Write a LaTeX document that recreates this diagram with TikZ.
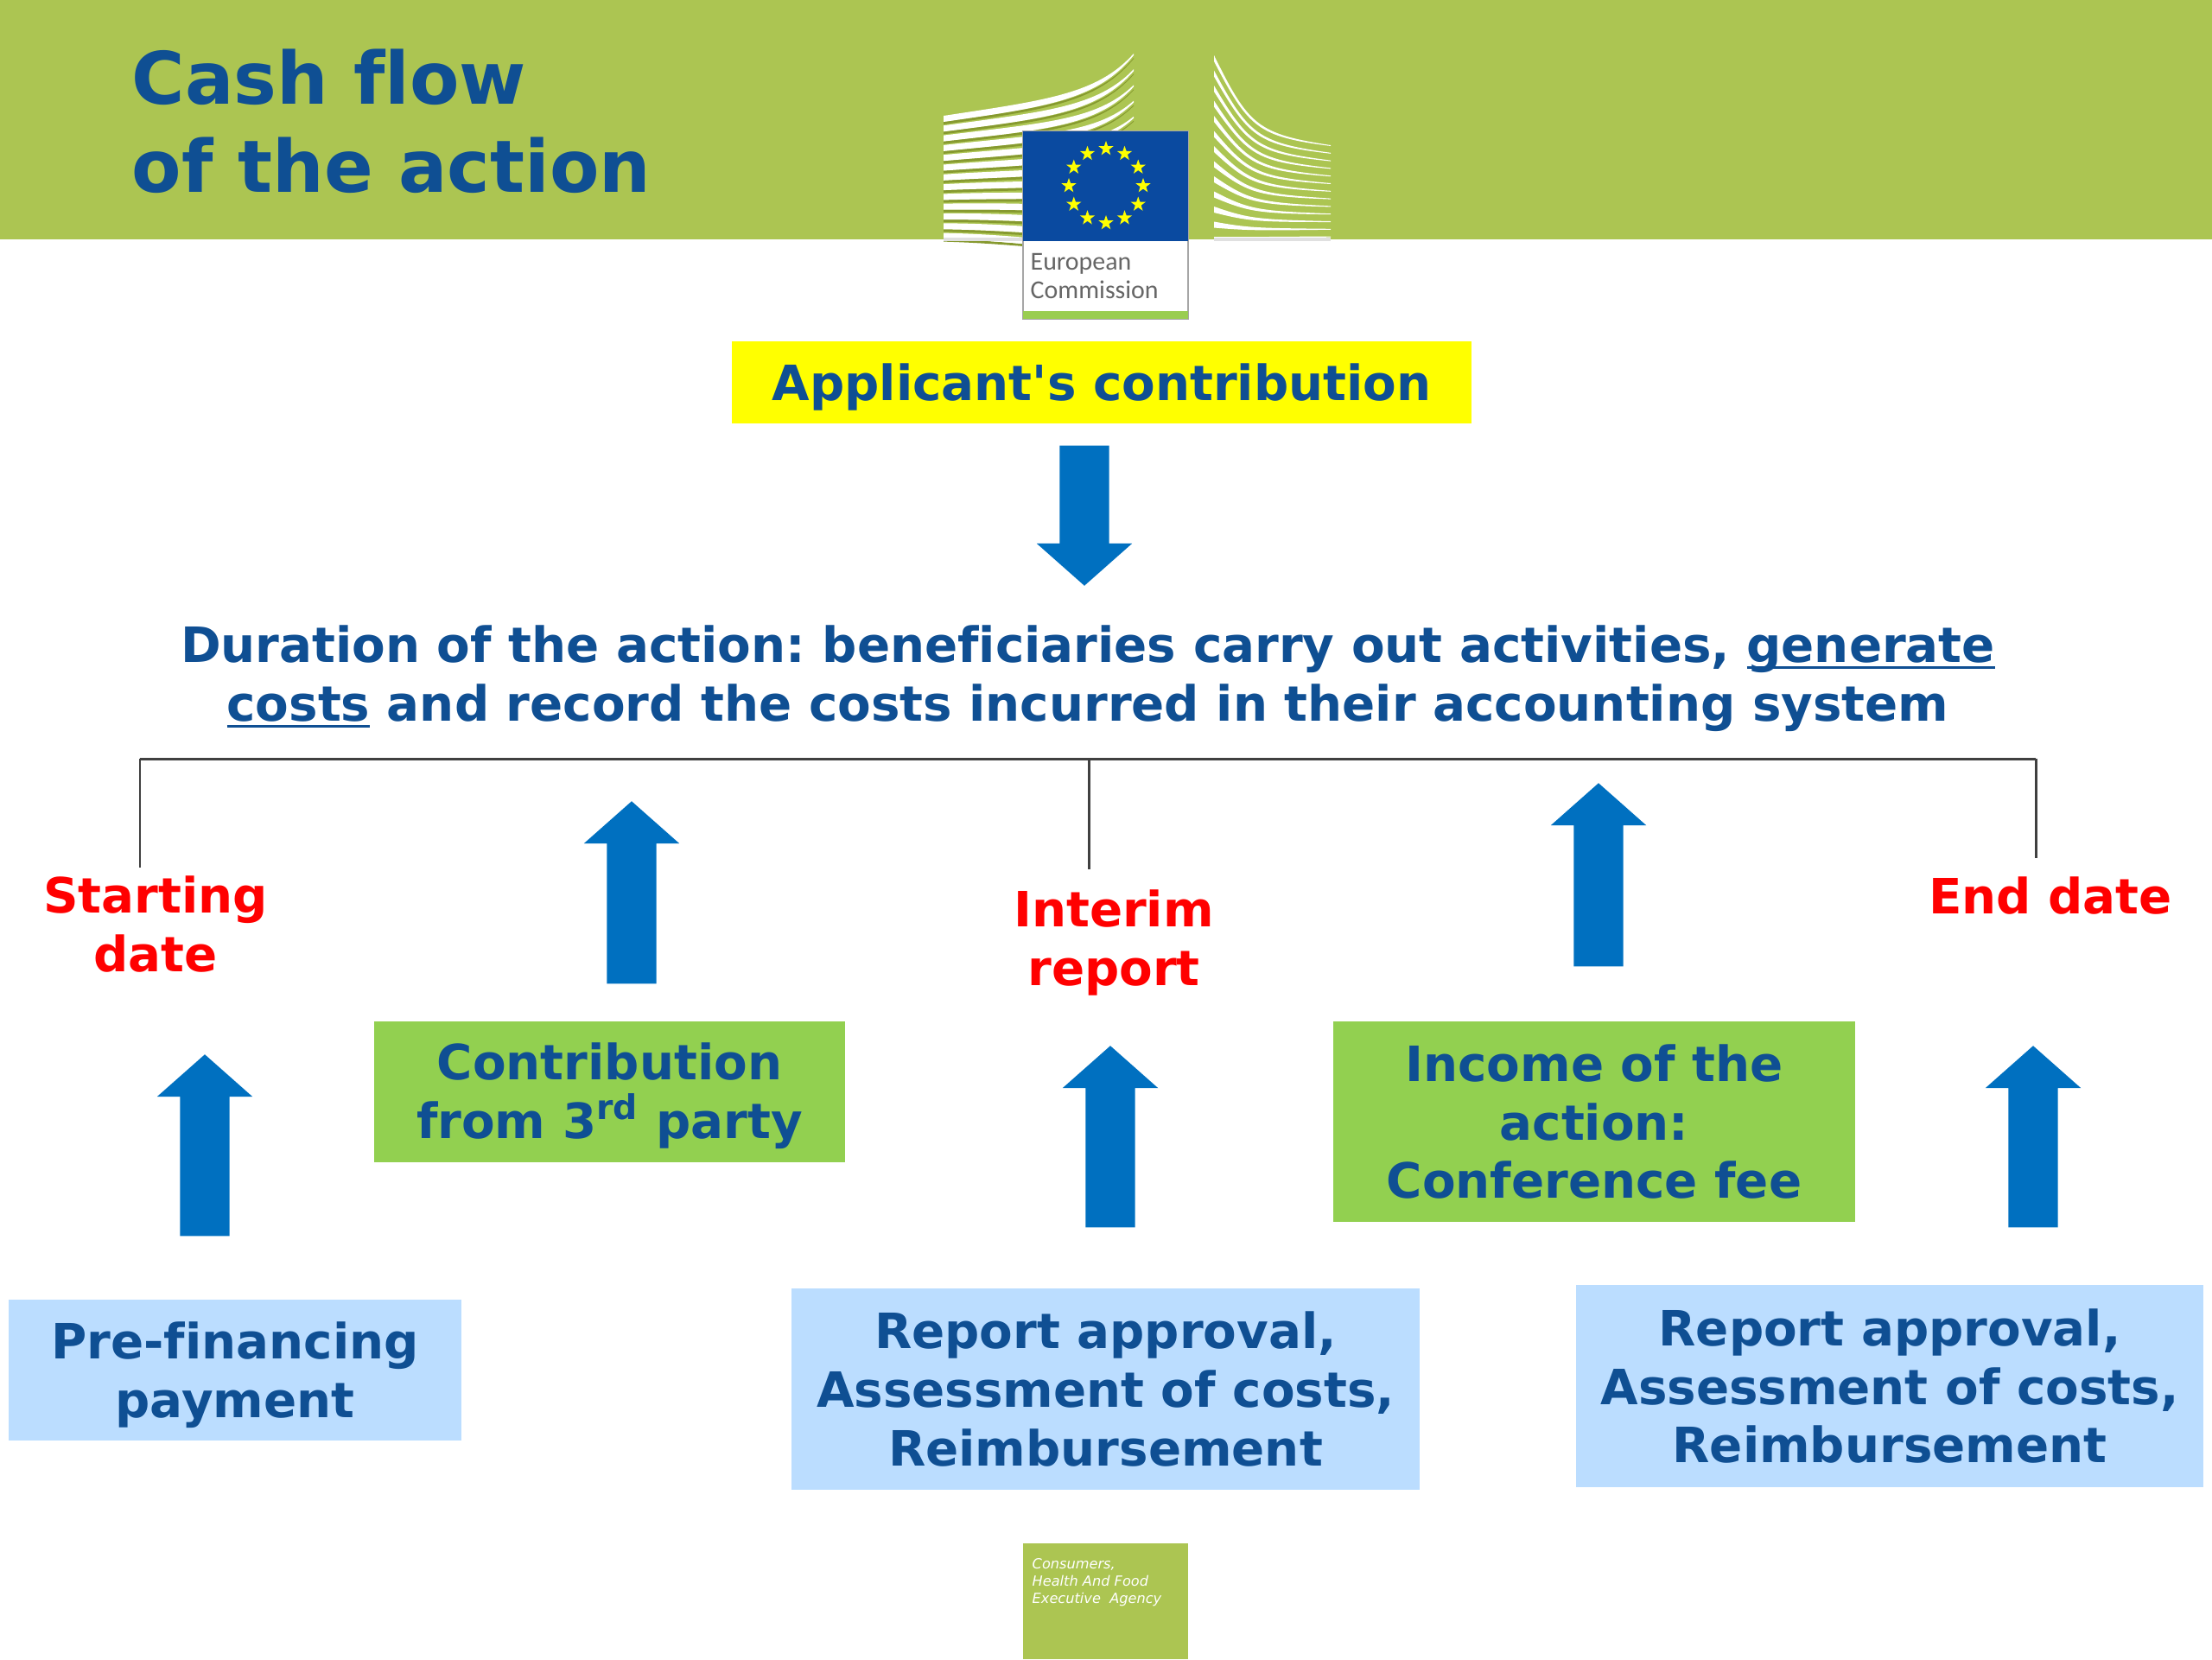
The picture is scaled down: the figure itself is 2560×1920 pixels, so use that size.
\documentclass[tikz,border=0pt]{standalone}
\usepackage{fontspec}
\setmainfont{DejaVu Sans}[Ligatures=CommonOff]
\newfontfamily\logofont{Carlito}
\usetikzlibrary{shapes.arrows,shapes.geometric}
\definecolor{headgreen}{HTML}{ACC552}
\definecolor{textblue}{HTML}{0F4F93}
\definecolor{arrowblue}{HTML}{0070C0}
\definecolor{boxgreen}{HTML}{92D050}
\definecolor{boxblue}{HTML}{BBDDFF}
\definecolor{boxyellow}{HTML}{FFFF00}
\definecolor{flagblue}{HTML}{0A4AA0}
\definecolor{wingshadow}{HTML}{86992F}
\newcommand{\lineup}[1]{\rule{0pt}{#1pt}}
\newcommand{\thickline}[1]{\setbox0\hbox{#1}\rlap{\rule[-2.2pt]{\wd0}{0.8pt}}\box0\relax}
\begin{document}
\frenchspacing
\begin{tikzpicture}[x=0.01cm,y=-0.01cm,
		body text/.style={text=textblue,font=\fontsize{16}{19.3}\selectfont\bfseries,align=center},
		base box/.style={body text,inner sep=0pt,outer sep=0pt},
		green box/.style={base box,fill=boxgreen},
		blue box/.style={base box,fill=boxblue},
		date label/.style={text=red,font=\fontsize{16}{19.3}\selectfont\bfseries,align=center,anchor=north,inner xsep=0pt,outer sep=0pt},
		block arrow/.style={single arrow,fill=arrowblue,inner xsep=0pt,inner ysep=0.28cm,outer sep=0pt,minimum width=1.09cm,
			single arrow head extend=0.265cm,single arrow tip angle=97},
		bus line/.style={draw=black!75,line width=0.85pt}]
		\useasboundingbox (0,0) rectangle (2560,1920);
		% header
		\fill[headgreen] (0,0) rectangle (2560,277);
		\node[anchor=west,inner sep=0pt,text=textblue,font=\fontsize{23.8}{29}\selectfont\bfseries,align=left] (title) at (152,140) {Cash flow\\of the action};
		% logo
		\foreach \i in {0,...,12} {
			\fill[wingshadow] ({1092},{141+11.3*\i}) .. controls (1210,{124+13*\i}) and (1270,{117+15*\i}) .. (1312,{67+18.2*\i})
				-- (1312,{68+18.2*\i}) .. controls (1270,{119+15*\i}) and (1210,{127+13*\i}) .. ({1092},{144+11.3*\i}) -- cycle;
			\fill[white] ({1092},{134+11.3*\i}) .. controls (1210,{116+13*\i}) and (1270,{109+15*\i}) .. (1312,{62+18.2*\i})
				-- (1312,{64+18.2*\i}) .. controls (1270,{116+15*\i}) and (1210,{124+13*\i}) .. ({1092},{141+11.3*\i}) -- cycle;
			\fill[white] (1405,{64+17.5*\i}) .. controls (1445,{145+10.8*\i}) and (1455,{155+9.9*\i}) .. (1540,{168+8.8*\i})
				-- (1540,{169+8.8*\i}) .. controls (1455,{158+9.9*\i}) and (1445,{148+10.8*\i}) .. (1405,{71+17.5*\i}) -- cycle;
		}
		\fill[black!12] (1092,275) rectangle (1184,279);
		\fill[black!12] (1405,275) rectangle (1540,279);
		\node[draw=black!35,fill=white,line width=0.5pt,minimum width=1.91cm,minimum height=2.17cm,inner sep=0pt,outer sep=0pt] (logobox) at (1279.5,260.5) {};
		\fill[flagblue] (1184,152) rectangle (1375,279);
		\fill[boxgreen!70!headgreen] (1184,360) rectangle (1375,369);
		\foreach \i in {1,...,12}
			\node[star,star points=5,star point ratio=2.5,fill=boxyellow,inner sep=0pt,minimum size=0.18cm] (star\i) at ({1280+43*cos(30*\i)},{215+43*sin(30*\i)}) {};
		\node[anchor=north west,inner sep=0pt,text=black!60,align=left,font=\logofont\fontsize{8.5}{9.3}\selectfont] (logotext) at (1192,292.5) {European\\Commission};
		% contribution and duration
		\node[base box,fill=boxyellow,minimum width=8.56cm,minimum height=0.95cm] (applicant) at (1275,442.5) {\lineup{15}Applicant\textquotesingle s contribution};
		\node[block arrow,rotate=-90,minimum height=1.62cm] (arrowdown) at (1255,584) {};
		\node[body text,inner sep=0pt] (duration) at (1259,785) {Duration of the action: beneficiaries carry out activities, \thickline{generate}\\\thickline{costs} and record the costs incurred in their accounting system};
		% time line
		\node[date label,inner ysep=0.1cm] (starting) at (180,1004) {Starting\\date};
		\node[date label,inner ysep=0.24cm] (interim) at (1289,1006) {Interim\\report};
		\node[date label,inner ysep=0.22cm] (enddate) at (2373,993) {End date};
		\coordinate (busleft) at (162,878);
		\coordinate (busmid) at (1260,878);
		\coordinate (busright) at (2356,878);
		\path[bus line]
		(busleft) edge (busright)
		(busleft) edge (busleft |- starting.north)
		(busmid) edge (busmid |- interim.north)
		(busright) edge (busright |- enddate.north);
		% boxes
		\node[green box,minimum width=5.45cm,minimum height=1.63cm] (thirdparty) at (705.5,1263.5) {\lineup{15}Contribution\\from 3\textsuperscript{rd} party};
		\node[green box,minimum width=6.04cm,minimum height=2.32cm] (income) at (1845,1298) {Income of the\\action:\\Conference fee};
		\node[blue box,minimum width=5.24cm,minimum height=1.63cm] (prefinancing) at (272,1585.5) {\lineup{15.5}Pre-financing\\payment};
		\node[blue box,minimum width=7.27cm,minimum height=2.33cm] (reportmid) at (1279.5,1607.5) {Report approval,\\Assessment of costs,\\Reimbursement};
		\node[blue box,minimum width=7.26cm,minimum height=2.34cm] (reportend) at (2187,1604) {Report approval,\\Assessment of costs,\\Reimbursement};
		% arrows
		\node[block arrow,rotate=90,minimum height=2.1cm] (arrowstart) at (237,1338) {};
		\node[block arrow,rotate=90,minimum height=2.11cm] (arrowthird) at (731,1045.5) {};
		\node[block arrow,rotate=90,minimum height=2.1cm] (arrowinterim) at (1285,1328) {};
		\node[block arrow,rotate=90,minimum height=2.12cm] (arrowincome) at (1850,1025) {};
		\node[block arrow,rotate=90,minimum height=2.1cm] (arrowend) at (2353,1328) {};
		% agency
		\node[fill=headgreen,anchor=north west,minimum width=1.91cm,minimum height=1.34cm,inner sep=0pt,outer sep=0pt] (agency) at (1184,1786) {};
		\node[anchor=north west,inner sep=0pt,text=white,align=left,font=\fontsize{4.6}{5.7}\selectfont\itshape] (agencytext) at (1194,1803) {Consumers,\\Health And Food\\Executive\ \ Agency};
		\end{tikzpicture}
\end{document}
